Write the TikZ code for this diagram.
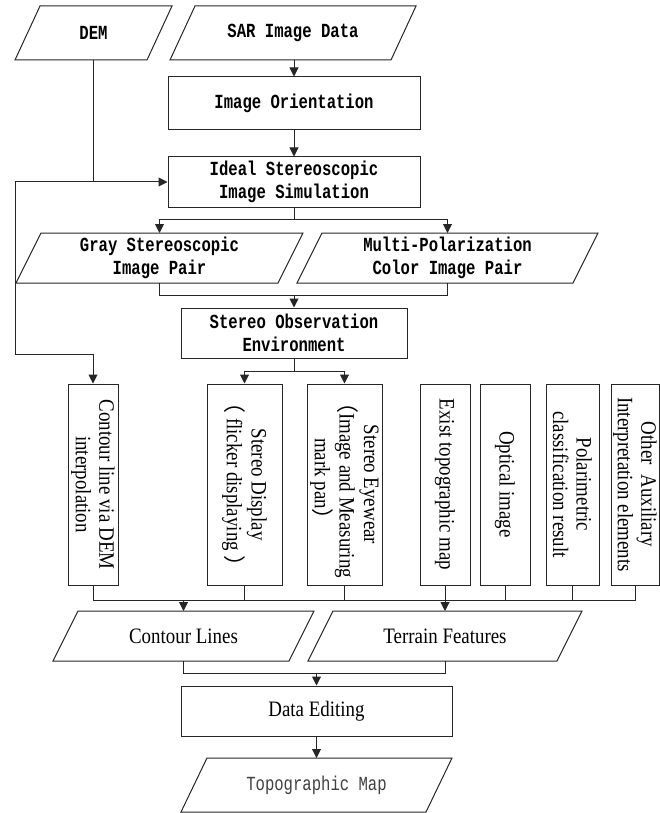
\documentclass[tikz,border=0pt]{standalone}
\usepackage{fontspec}
\setmainfont{Liberation Serif}[FakeStretch=0.86]
\newfontfamily\monofont{Liberation Mono}[FakeStretch=0.78]
\newfontfamily\cjkfont{Noto Sans CJK SC}
\usetikzlibrary{arrows.meta}
\newcommand\drawpara[2]{\draw[line] ([xshift=-#2pt]#1.south west) -- ([xshift=-#2pt]#1.south east) -- ([xshift=#2pt]#1.north east) -- ([xshift=#2pt]#1.north west) -- cycle;}
\begin{document}
\begin{tikzpicture}[x=1pt,y=-1pt,
  line/.style={draw=black!85, line width=1pt},
  arr/.style={line, -{Triangle[length=9pt,width=9pt]}},
  pbox/.style={draw=black!85, line width=1pt, rectangle, inner sep=0pt},
  para/.style={rectangle, inner sep=0pt, outer sep=0pt},
  mono/.style={font=\monofont\bfseries\fontsize{20}{22.5}\selectfont, align=center},
  serif/.style={font=\fontsize{22}{23.5}\selectfont, align=center},
  vtext/.style={serif, rotate=-90}
]
\useasboundingbox (0,0) rectangle (660,813);
% top part
\node[para, mono, minimum width=132pt, minimum height=54pt] (dem) at (93.5,33) {DEM};
\node[para, mono, minimum width=221pt, minimum height=54pt] (sar) at (293,33) {SAR Image Data};
\node[pbox, mono, minimum width=252pt, minimum height=53pt] (io) at (294,103.5) {Image Orientation};
\node[pbox, mono, minimum width=252pt, minimum height=50pt] (ideal) at (294,182) {Ideal Stereoscopic\\Image Simulation};
\node[para, mono, minimum width=262pt, minimum height=50pt] (gray) at (159.5,258) {Gray Stereoscopic\\Image Pair};
\node[para, mono, minimum width=276pt, minimum height=50pt] (multi) at (447.5,258) {Multi-Polarization\\Color Image Pair};
\node[pbox, mono, minimum width=226pt, minimum height=50pt] (obs) at (294,333) {Stereo Observation\\Environment};
% vertical boxes
\node[pbox, minimum width=50pt, minimum height=201pt] (b1) at (93,484.5) {};
\node[pbox, minimum width=75pt, minimum height=201pt] (b2) at (244.5,484.5) {};
\node[pbox, minimum width=75pt, minimum height=201pt] (b3) at (344.5,484.5) {};
\node[pbox, minimum width=50pt, minimum height=201pt] (b4) at (445,484.5) {};
\node[pbox, minimum width=50pt, minimum height=201pt] (b5) at (505,484.5) {};
\node[pbox, minimum width=53pt, minimum height=201pt] (b6) at (572.5,484.5) {};
\node[pbox, minimum width=48pt, minimum height=201pt] (b7) at (635,484.5) {};
\node[vtext] (t1) at (b1.center) {Contour line via DEM\\interpolation};
\node[vtext] (t2) at (b2.center) {Stereo Display\\{\cjkfont （}\ flicker displaying\ {\cjkfont ）}};
\node[vtext] (t3) at (b3.center) {Stereo Eyewear\\{\cjkfont （}Image and Measuring\\mark pan{\cjkfont ）}};
\node[vtext] (t4) at (b4.center) {Exist topographic map};
\node[vtext] (t5) at (b5.center) {Optical image};
\node[vtext] (t6) at (b6.center) {Polarimetric\\classification result};
\node[vtext] (t7) at (b7.center) {Other\ \ Auxiliary\\Interpretation elements};
% bottom part
\node[para, serif, minimum width=236pt, minimum height=50pt] (cl) at (183.5,636) {Contour Lines};
\node[para, serif, minimum width=249pt, minimum height=50pt] (tf) at (445,636) {Terrain Features};
\node[pbox, serif, minimum width=271pt, minimum height=50pt] (de) at (316.5,711) {Data Editing};
\node[para, minimum width=245pt, minimum height=54pt, text=black!75, font=\monofont\fontsize{20}{22}\selectfont] (tm) at (316.5,785) {Topographic Map};
% parallelogram outlines
\drawpara{dem}{12.5}
\drawpara{sar}{12.5}
\drawpara{gray}{12.5}
\drawpara{multi}{12.5}
\drawpara{cl}{12.5}
\drawpara{tf}{12.5}
\drawpara{tm}{13}
% connectors
\draw[arr] (io.north |- sar.south) -- (io.north);
\draw[arr] (io) -- (ideal);
\coordinate (j1) at (15,182);
\coordinate (j2) at (15,354);
\draw[line] (dem.south) -- (dem.south |- ideal.west);
\draw[arr] (j1) -- (ideal.west);
\draw[arr] (j1) -- (j2) -| (b1.north);
\coordinate (j3) at (294,219);
\draw[line] (ideal.south) -- (j3);
\draw[arr] (j3) -| (gray.north);
\draw[arr] (j3) -| (multi.north);
\coordinate (j4) at (294,295);
\draw[line] (gray.south) |- (j4);
\draw[line] (multi.south) |- (j4);
\draw[arr] (j4) -- (obs.north);
\coordinate (j5) at (294,371);
\draw[line] (obs.south) -- (j5);
\draw[arr] (j5) -| (b2.north);
\draw[arr] (j5) -| (b3.north);
\coordinate (j6) at (183.5,600);
\coordinate (j7) at (445,600);
\draw[line] (b1.south) |- (j6);
\draw[line] (b7.south) |- (j7);
\draw[line] (j6) -- (j7);
\draw[line] (b2.south) -- (b2.south |- j6);
\draw[line] (b3.south) -- (b3.south |- j6);
\draw[line] (b4.south) -- (j7);
\draw[line] (b5.south) -- (b5.south |- j6);
\draw[line] (b6.south) -- (b6.south |- j6);
\draw[arr] (j6) -- (cl.north);
\draw[arr] (j7) -- (tf.north);
\coordinate (j8) at (316.5,673);
\draw[line] (cl.south) |- (j8);
\draw[line] (tf.south) |- (j8);
\draw[arr] (j8) -- (de.north);
\draw[arr] (de) -- (tm);
\end{tikzpicture}
\end{document}
